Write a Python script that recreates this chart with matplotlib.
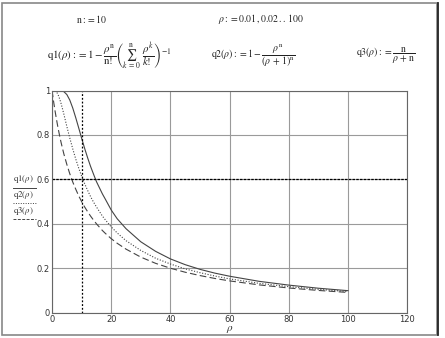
import numpy as np
import matplotlib.pyplot as plt
from matplotlib.lines import Line2D
from matplotlib.patches import Rectangle

plt.rcParams['mathtext.fontset'] = 'stix'

# values
rho = [0, 0.5, 1, 1.5, 2, 2.5, 3, 3.5, 4, 5, 6, 7, 8, 9, 10, 11, 12, 13, 14,
       15, 17, 18, 20, 22, 25, 30, 35, 40, 45, 50, 55, 60, 70, 80, 90, 100]
q1 = [1.0, 1.0, 1.0, 1.0, 1.0, 1.0, 0.999, 0.998, 0.995, 0.982, 0.957, 0.921,
      0.878, 0.832, 0.785, 0.740, 0.698, 0.659, 0.624, 0.590, 0.535, 0.511,
      0.462, 0.423, 0.378, 0.319, 0.276, 0.242, 0.216, 0.195, 0.178, 0.164,
      0.141, 0.124, 0.110, 0.099]
q2 = [1.0, 1.0, 0.999, 0.994, 0.983, 0.965, 0.944, 0.919, 0.893, 0.838, 0.786,
      0.737, 0.692, 0.651, 0.614, 0.581, 0.551, 0.523, 0.498, 0.476, 0.435,
      0.418, 0.386, 0.359, 0.324, 0.280, 0.245, 0.219, 0.197, 0.180, 0.165,
      0.152, 0.132, 0.117, 0.105, 0.095]
q3 = [1.0, 0.952, 0.909, 0.870, 0.833, 0.800, 0.769, 0.741, 0.714, 0.667,
      0.625, 0.588, 0.556, 0.526, 0.500, 0.476, 0.455, 0.435, 0.417, 0.400,
      0.370, 0.357, 0.333, 0.3125, 0.286, 0.250, 0.222, 0.200, 0.182, 0.167,
      0.154, 0.143, 0.125, 0.111, 0.100, 0.091]
marker_x = 10
marker_y = 0.6
xticks = [0, 20, 40, 60, 80, 100, 120]
yticks = [0, 0.2, 0.4, 0.6, 0.8, 1]
ytick_labels = ['0', '0.2', '0.4', '0.6', '0.8', '1']

fig = plt.figure(figsize=(4.45, 3.38), dpi=100)

# page frame
fig.patches.append(Rectangle((0.005, 0.009), 0.978, 0.982, transform=fig.transFigure,
                             fill=False, edgecolor='#888888', lw=1.2))
fig.add_artist(Line2D([0.984, 0.984], [0.009, 0.991], transform=fig.transFigure,
                      color='#222222', lw=1.3))

# definitions above the plot
tc = '#222222'
fig.text(0.17, 0.945, r'$\mathrm{n} := 10$', fontsize=7, color=tc, va='center')
fig.text(0.49, 0.945, r'$\rho := 0.01\,, 0.02\,..\,100$', fontsize=7, color=tc, va='center')
fig.text(0.105, 0.835,
         r'$\mathrm{q1}(\rho) := 1 - \dfrac{\rho^{\mathrm{n}}}{\mathrm{n}!}'
         r'\left(\sum_{k\,=\,0}^{\mathrm{n}}\ \dfrac{\rho^{k}}{k!}\right)^{-1}$',
         fontsize=7.8, color=tc, va='center')
fig.text(0.475, 0.835,
         r'$\mathrm{q2}(\rho) := 1 - \dfrac{\rho^{\mathrm{n}}}{(\rho\,+\,1)^{\mathrm{n}}}$',
         fontsize=7, color=tc, va='center')
fig.text(0.8, 0.835,
         r'$\mathrm{q3}(\rho) := \dfrac{\mathrm{n}}{\rho\,+\,\mathrm{n}}$',
         fontsize=7, color=tc, va='center')

ax = fig.add_axes([0.117, 0.075, 0.798, 0.657])
ax.plot(rho, q1, color='#444444', lw=0.8, ls='-')
ax.plot(rho, q2, color='#444444', lw=0.8, ls=(0, (1, 1.5)))
ax.plot(rho, q3, color='#444444', lw=0.8, ls=(0, (6, 3)))
ax.axvline(marker_x, color='black', lw=0.9, ls=(0, (1.5, 1.5)))
ax.axhline(marker_y, color='black', lw=0.9, ls=(0, (2, 1)))

ax.set_xlim(0, 120)
ax.set_ylim(0, 1)
ax.set_xticks(xticks)
ax.set_yticks(yticks)
ax.set_yticklabels(ytick_labels)
ax.grid(True, color='#9a9a9a', lw=0.8)
ax.tick_params(length=0, pad=1.5, labelsize=6, labelcolor='#333333')
for s in ax.spines.values():
    s.set_color('#666666')
    s.set_linewidth(0.8)
ax.set_xlabel(r'$\rho$', fontsize=8, labelpad=0, color='#333333')

# stacked y labels with line samples
labels = [(r'$\mathrm{q1}(\rho)$', '-', 0.452),
          (r'$\mathrm{q2}(\rho)$', (0, (1, 1.5)), 0.405),
          (r'$\mathrm{q3}(\rho)$', (0, (3, 1.5)), 0.358)]
for txt, ls, y in labels:
    fig.text(0.03, y, txt, fontsize=6.3, color='#333333', va='bottom')
    fig.add_artist(Line2D([0.03, 0.08], [y - 0.007, y - 0.007], transform=fig.transFigure,
                          color='#444444', lw=0.7, ls=ls))

fig.savefig('out.png', dpi=100)
